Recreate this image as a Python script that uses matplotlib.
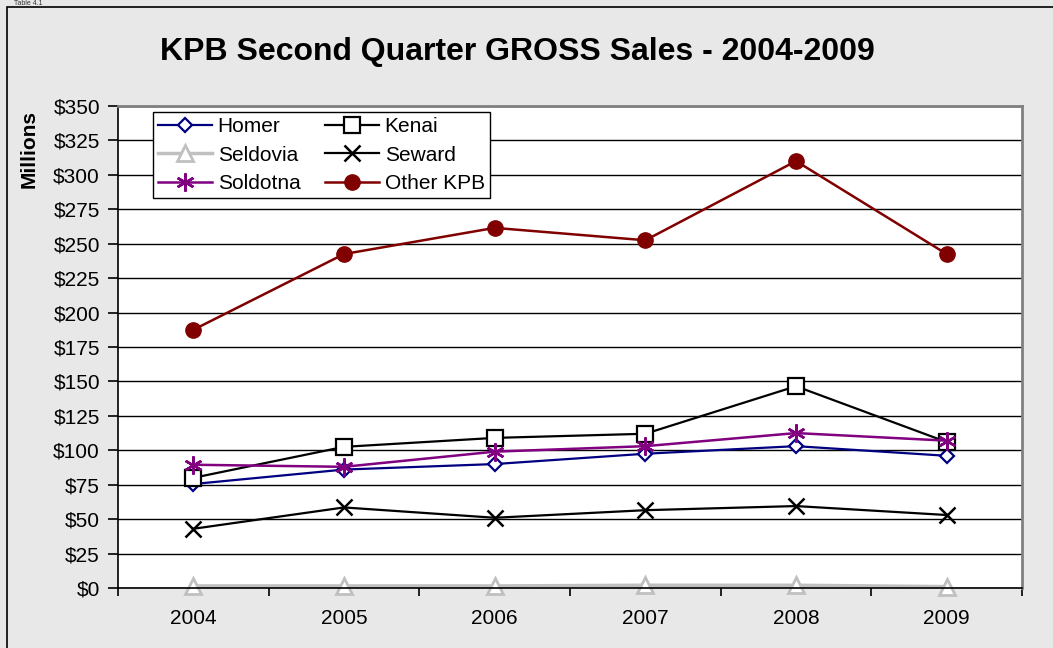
import matplotlib.pyplot as plt
from matplotlib.patches import Rectangle

# data (millions of dollars)
years = ['2004', '2005', '2006', '2007', '2008', '2009']
homer = [75.5, 86, 90, 97.5, 103, 96]
kenai = [80, 102.5, 109, 112, 146.5, 106]
seldovia = [1.5, 1.5, 1.5, 2, 2, 1]
seward = [43, 58.5, 51, 56.5, 59.5, 53]
soldotna = [89.5, 88, 99, 103, 112.5, 107]
other_kpb = [187.5, 242.5, 261.5, 252.5, 310, 242.5]

plt.rcParams['font.family'] = ['Liberation Sans', 'DejaVu Sans']

fig = plt.figure(figsize=(10.53, 6.48), dpi=100)
fig.patch.set_facecolor('#e8e8e8')
# outer chart frame
fig.patches.append(Rectangle((7 / 1053, -0.01), 1.02, 1.01 - 7 / 648,
                             transform=fig.transFigure, fill=False,
                             edgecolor='black', lw=1.2))
# small caption above the frame
fig.text(14 / 1053, 1 - 7 / 648, 'Table 4.1', fontsize=5, va='bottom', color='#333333')

ax = fig.add_axes([118 / 1053, 60 / 648, 904 / 1053, 482 / 648])
x = list(range(len(years)))

l_homer, = ax.plot(x, homer, color='#000080', lw=1.6, marker='D', ms=7, mfc='white',
                   mec='#000080', mew=1.6, label='Homer', clip_on=False)
l_kenai, = ax.plot(x, kenai, color='black', lw=1.6, marker='s', ms=11, mfc='white',
                   mec='black', mew=1.6, label='Kenai', clip_on=False)
l_seld, = ax.plot(x, seldovia, color='#c0c0c0', lw=2.5, marker='^', ms=11, mfc='white',
                  mec='#c0c0c0', mew=2, label='Seldovia', clip_on=False)
l_sew, = ax.plot(x, seward, color='black', lw=1.6, marker='x', ms=12, mew=1.8,
                 label='Seward', clip_on=False)
l_sold, = ax.plot(x, soldotna, color='#800080', lw=1.8, marker=(6, 2, 0), ms=13,
                  mew=1.8, mec='#800080', label='Soldotna', clip_on=False)
l_other, = ax.plot(x, other_kpb, color='#800000', lw=1.8, marker='o', ms=11,
                   mfc='#800000', mec='#800000', label='Other KPB', clip_on=False)

ax.set_xlim(-0.5, 5.5)
ax.set_ylim(0, 350)
ax.set_yticks(range(0, 351, 25))
ax.set_yticklabels([f'${v}' for v in range(0, 351, 25)])
ax.set_xticks(x)
ax.set_xticklabels(years)
ax.set_xticks([i - 0.5 for i in range(7)], minor=True)
ax.tick_params(axis='x', which='major', length=0, pad=15, labelsize=15)
ax.tick_params(axis='x', which='minor', length=6, width=1.2, direction='out')
ax.tick_params(axis='y', length=7, width=1.2, direction='out', labelsize=15, pad=6)
ax.grid(axis='y', color='black', lw=1)
ax.set_axisbelow(True)
for s in ['top', 'right']:
    ax.spines[s].set_color('#808080')
    ax.spines[s].set_linewidth(2)
for s in ['left', 'bottom']:
    ax.spines[s].set_color('black')
    ax.spines[s].set_linewidth(1.2)

ax.set_ylabel('Millions', fontsize=15, fontweight='bold')
ax.yaxis.set_label_coords(-0.088, 0.91)
fig.text(517 / 1053, 1 - 52 / 648, 'KPB Second Quarter GROSS Sales - 2004-2009',
         ha='center', va='center', fontsize=23, fontweight='bold')

# legend fills row by row in the reference
handles = [l_homer, l_seld, l_sold, l_kenai, l_sew, l_other]
leg = ax.legend(handles=handles, labels=[h.get_label() for h in handles], ncol=2,
                loc='upper left', bbox_to_anchor=(0.0387, 0.9876),
                fontsize=15, frameon=True, fancybox=False, framealpha=1,
                edgecolor='black', handlelength=2.6, handletextpad=0.25,
                columnspacing=1.2, labelspacing=0.45, borderpad=0.25,
                borderaxespad=0)
leg.get_frame().set_linewidth(1)

fig.savefig('out.png', dpi=100, facecolor=fig.get_facecolor())
